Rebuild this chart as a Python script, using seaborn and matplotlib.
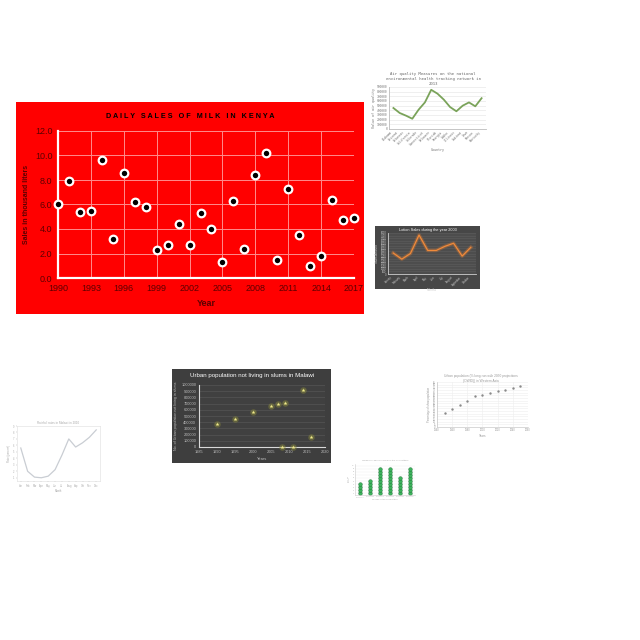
import pandas as pd
import matplotlib
matplotlib.use('Agg')
import matplotlib.pyplot as plt
from matplotlib.ticker import FuncFormatter
import seaborn as sns

# ---- main chart: daily milk sales in Kenya ----
milk_years = list(range(1990, 2018))
milk_sales = [6.0, 7.9, 5.4, 5.5, 9.6, 3.2, 8.6, 6.2, 5.8, 2.3, 2.7, 4.4, 2.7, 5.3,
              4.0, 1.3, 6.3, 2.4, 8.4, 10.2, 1.5, 7.3, 3.5, 1.0, 1.8, 6.4, 4.7, 4.9]
milk_xticks = list(range(1990, 2018, 3))
milk_yticks = [0, 2, 4, 6, 8, 10, 12]

# ---- air quality thumbnail ----
aq_countries = ['Alabama', 'Arizona', 'Arkansas', 'California', 'Colorado', 'Connecticut',
                'Delaware', 'Florida', 'Georgia', 'Idaho', 'Illinois', 'Indiana',
                'Iowa', 'Kansas', 'Kentucky']
aq_values = [450000, 343000, 286000, 220000, 414000, 570000, 840000, 757000,
             630000, 470000, 380000, 500000, 570000, 486000, 660000]

# ---- lotion sales thumbnail ----
lotion_months = ['January', 'February', 'March', 'April', 'May', 'June',
                 'July', 'August', 'September', 'October']
lotion_sales = [4100, 2900, 4000, 7600, 4600, 4600, 5400, 6000, 3500, 5200]

# ---- Malawi urban population thumbnail ----
malawi_years = [1990, 1995, 2000, 2005, 2007, 2008, 2009, 2011, 2014, 2016]
malawi_urban = [370000, 445000, 565000, 668000, 690000, 0, 712000, 0, 918000, 158000]

# ---- small line thumbnail ----
rate_months = ['Jan', 'Feb', 'Mar', 'Apr', 'May', 'Jun', 'Jul', 'Aug', 'Sep', 'Oct', 'Nov', 'Dec']
rate_values = [5.6, 2.0, 1.1, 1.0, 1.25, 2.25, 4.5, 7.0, 5.75, 6.4, 7.25, 8.4]

# ---- urban population (% OWID) thumbnail ----
owid_years = [1950, 1960, 1970, 1980, 1990, 2000, 2010, 2020, 2030, 2040, 2050]
owid_urban = [27.3, 34.0, 42.0, 49.0, 57.7, 60.0, 64.5, 68.0, 70.7, 74.4, 76.9]

# ---- dot column thumbnail ----
dot_groups = ['Group A', 'Group B', 'Group C', 'Group D', 'Group E', 'Group F']
dot_counts = [4, 5, 9, 9, 6, 9]

plt.rcParams['font.family'] = ['Liberation Sans', 'DejaVu Sans']

fig = plt.figure(figsize=(6.4, 6.4), dpi=100)
fig.patch.set_facecolor('white')
plain = FuncFormatter(lambda v, p: f'{int(v)}')


def panel(x0, y0, x1, y1):
    # pixel box -> figure axes
    return fig.add_axes([x0 / 640, 1 - y1 / 640, (x1 - x0) / 640, (y1 - y0) / 640])


def background(x0, y0, x1, y1, color):
    bg = panel(x0, y0, x1, y1)
    bg.set_facecolor(color)
    bg.set_xticks([])
    bg.set_yticks([])
    for s in bg.spines.values():
        s.set_visible(False)
    return bg


def ftext(x, y, s, **kw):
    fig.text(x / 640, 1 - y / 640, s, ha='center', va='center', **kw)


# ===================== main chart =====================
background(16, 102, 364, 314, '#ff0000')
ax = panel(58, 131, 354, 278)
ax.set_facecolor('#ff0000')
milk = pd.DataFrame({'Year': milk_years, 'Sales': milk_sales})
sns.scatterplot(data=milk, x='Year', y='Sales', ax=ax, s=30, color='black',
                edgecolor='white', linewidth=1.6, clip_on=False, zorder=5)
ax.set_xlim(1990, 2017)
ax.set_ylim(0, 12)
ax.set_xticks(milk_xticks)
ax.set_yticks(milk_yticks)
ax.set_yticklabels([f'{v:.1f}' for v in milk_yticks])
ax.grid(color='#ff8c8c', lw=0.7)
ax.set_axisbelow(True)
for side in ['top', 'right']:
    ax.spines[side].set_visible(False)
for side in ['left', 'bottom']:
    ax.spines[side].set_color('white')
    ax.spines[side].set_linewidth(1.6)
ax.tick_params(length=0, labelsize=6.5, colors='#5c0000', pad=4)
ax.set_xlabel('Year', fontsize=6.5, fontweight='bold', color='#5c0000')
ax.set_ylabel('Sales in thousand liters', fontsize=5, fontweight='bold', color='#5c0000')
ax.xaxis.set_label_coords(0.5, -0.14)
ax.yaxis.set_label_coords(-0.093, 0.5)
ftext(190, 116, 'D A I L Y   S A L E S   O F   M I L K   I N   K E N Y A',
      fontsize=5.2, fontweight='bold', color='black')

# ===================== air quality =====================
ax2 = panel(389, 87, 486, 129)
aq = pd.DataFrame({'Country': aq_countries, 'Value': aq_values})
sns.lineplot(data=aq, x='Country', y='Value', ax=ax2, color='#7aa35a', lw=1.3, sort=False)
ax2.set_ylim(0, 900000)
ax2.set_yticks(range(0, 900001, 100000))
ax2.yaxis.set_major_formatter(plain)
ax2.yaxis.grid(True, color='#e4e4e4', lw=0.4)
ax2.set_axisbelow(True)
for side in ['top', 'right']:
    ax2.spines[side].set_visible(False)
for side in ['left', 'bottom']:
    ax2.spines[side].set_color('#bbbbbb')
    ax2.spines[side].set_linewidth(0.6)
ax2.tick_params(length=0, labelsize=2.2, colors='#777777', pad=1)
plt.setp(ax2.get_xticklabels(), rotation=45, ha='right', family='DejaVu Sans Mono')
plt.setp(ax2.get_yticklabels(), family='DejaVu Sans Mono')
ax2.set_xlabel('Country', fontsize=2.4, color='#777777', family='DejaVu Sans Mono', labelpad=1)
ax2.set_ylabel('Value of air quality', fontsize=2.4, color='#777777', family='DejaVu Sans Mono', labelpad=1)
ftext(433, 79, 'Air quality Measures on the national\nenvironmental health tracking network in\n2013',
      fontsize=2.8, color='#666666', family='DejaVu Sans Mono', linespacing=1.4)

# ===================== lotion sales =====================
background(375, 226, 480, 289, '#474747')
ax3 = panel(388, 233, 476, 274)
ax3.set_facecolor('#4d4d4d')
lot = pd.DataFrame({'Month': lotion_months, 'Sales': lotion_sales})
sns.lineplot(data=lot, x='Month', y='Sales', ax=ax3, color='#e07a2e', lw=2.6, alpha=0.35, sort=False)
sns.lineplot(data=lot, x='Month', y='Sales', ax=ax3, color='#f08a3a', lw=0.9, sort=False)
ax3.set_ylim(0, 8000)
ax3.set_yticks(range(0, 8001, 500))
ax3.set_xlim(-0.6, 9.6)
ax3.yaxis.grid(True, color='#5e5e5e', lw=0.4)
ax3.set_axisbelow(True)
for side in ['top', 'right']:
    ax3.spines[side].set_visible(False)
for side in ['left', 'bottom']:
    ax3.spines[side].set_color('#cfcfcf')
    ax3.spines[side].set_linewidth(0.6)
ax3.tick_params(length=0, labelsize=1.8, colors='#cccccc', pad=1)
plt.setp(ax3.get_xticklabels(), rotation=45, ha='right')
ax3.set_xlabel('Months', fontsize=2.2, color='#cccccc', labelpad=1)
ax3.set_ylabel('Sales Amount', fontsize=2.2, color='#cccccc', labelpad=1)
ftext(428, 229.5, 'Lotion Sales during the year 2003', fontsize=2.8, color='white')

# ===================== Malawi =====================
background(172, 369, 331, 463, '#3e3e3e')
ax4 = panel(199, 385, 325, 447)
ax4.set_facecolor('#404040')
mal = pd.DataFrame({'Year': malawi_years, 'Urban': malawi_urban})
sns.scatterplot(data=mal, x='Year', y='Urban', ax=ax4, s=22, color='#8a8a3a', alpha=0.45,
                linewidth=0, clip_on=False, zorder=4)
sns.scatterplot(data=mal, x='Year', y='Urban', ax=ax4, s=9, marker='*', color='#f1eb8a',
                linewidth=0, clip_on=False, zorder=5)
ax4.set_xlim(1985, 2020)
ax4.set_ylim(0, 1000000)
ax4.set_xticks(range(1985, 2021, 5))
ax4.set_yticks(range(0, 1000001, 100000))
ax4.yaxis.set_major_formatter(plain)
ax4.yaxis.grid(True, color='#555555', lw=0.5)
ax4.set_axisbelow(True)
for side in ['top', 'right']:
    ax4.spines[side].set_visible(False)
for side in ['left', 'bottom']:
    ax4.spines[side].set_color('#d9d9d9')
    ax4.spines[side].set_linewidth(0.8)
ax4.tick_params(length=0, labelsize=2.8, colors='#bdbdbd', pad=2)
ax4.set_xlabel('Years', fontsize=3, color='#bdbdbd', labelpad=2)
ax4.set_ylabel('No. of Urban population not living in slums', fontsize=2.6, color='#bdbdbd', labelpad=2)
ftext(252, 376, 'Urban population not living in slums in Malawi', fontsize=4.4, color='white')

# ===================== small line =====================
ax5 = panel(17, 426, 100, 481)
rate = pd.DataFrame({'Month': rate_months, 'Rate': rate_values})
sns.lineplot(data=rate, x='Month', y='Rate', ax=ax5, color='#c9cdd3', lw=0.9, sort=False)
ax5.set_ylim(0.5, 9)
ax5.set_yticks(range(1, 10))
for s in ax5.spines.values():
    s.set_color('#dddddd')
    s.set_linewidth(0.4)
ax5.tick_params(length=1, width=0.3, labelsize=1.8, colors='#aaaaaa', pad=1)
ax5.set_xlabel('Month', fontsize=1.9, color='#aaaaaa', labelpad=1)
ax5.set_ylabel('Rate (percent)', fontsize=1.9, color='#aaaaaa', labelpad=1)
ftext(58, 423.5, 'Rainfall rates in Malawi in 2010', fontsize=2.2, color='#aaaaaa')

# ===================== urban population % =====================
ax6 = panel(437, 382, 528, 427)
owid = pd.DataFrame({'Year': owid_years, 'Urban': owid_urban})
sns.scatterplot(data=owid, x='Year', y='Urban', ax=ax6, s=3, color='#8a8a8a', linewidth=0)
ax6.set_xlim(1940, 2060)
ax6.set_ylim(0, 85)
ax6.set_xticks(range(1940, 2061, 20))
ax6.set_yticks(range(0, 86, 5))
ax6.grid(True, color='#eeeeee', lw=0.4)
ax6.set_axisbelow(True)
for side in ['top', 'right']:
    ax6.spines[side].set_visible(False)
for side in ['left', 'bottom']:
    ax6.spines[side].set_color('#bbbbbb')
    ax6.spines[side].set_linewidth(0.4)
ax6.tick_params(length=0, labelsize=1.8, colors='#999999', pad=1)
ax6.set_xlabel('Years', fontsize=2.2, color='#999999', labelpad=1)
ax6.set_ylabel('Percentage of urban population', fontsize=1.8, color='#999999', labelpad=1)
ftext(481, 378.5, 'Urban population (% long-run with 2050 projections\n(OWID)) in Western Asia',
      fontsize=2.3, color='#999999', linespacing=1.2)

# ===================== dot columns =====================
ax7 = panel(355, 464, 415, 495)
dots = pd.DataFrame({
    'Group': [g for g, n in zip(dot_groups, dot_counts) for _ in range(n)],
    'Count': [i + 1 for n in dot_counts for i in range(n)],
})
sns.scatterplot(data=dots, x='Group', y='Count', ax=ax7, s=7, color='#3cb35c',
                edgecolor='#1f6e35', linewidth=0.3, clip_on=False)
ax7.set_ylim(0.5, 10.5)
ax7.set_xlim(-0.5, 5.5)
ax7.set_yticks(range(1, 11))
ax7.yaxis.grid(True, color='#eeeeee', lw=0.3)
ax7.set_axisbelow(True)
for side in ['top', 'right']:
    ax7.spines[side].set_visible(False)
for side in ['left', 'bottom']:
    ax7.spines[side].set_color('#cccccc')
    ax7.spines[side].set_linewidth(0.4)
ax7.tick_params(length=0, labelsize=1.5, colors='#aaaaaa', pad=1)
ax7.set_xlabel('Groups in the competition', fontsize=1.6, color='#aaaaaa', labelpad=1)
ax7.set_ylabel('No. of\nwins', fontsize=1.6, color='#aaaaaa', labelpad=1)
ftext(385, 460.5, 'Number of wins by group in the competition', fontsize=1.7, color='#aaaaaa')

plt.savefig('out.png', dpi=100, facecolor='white')
